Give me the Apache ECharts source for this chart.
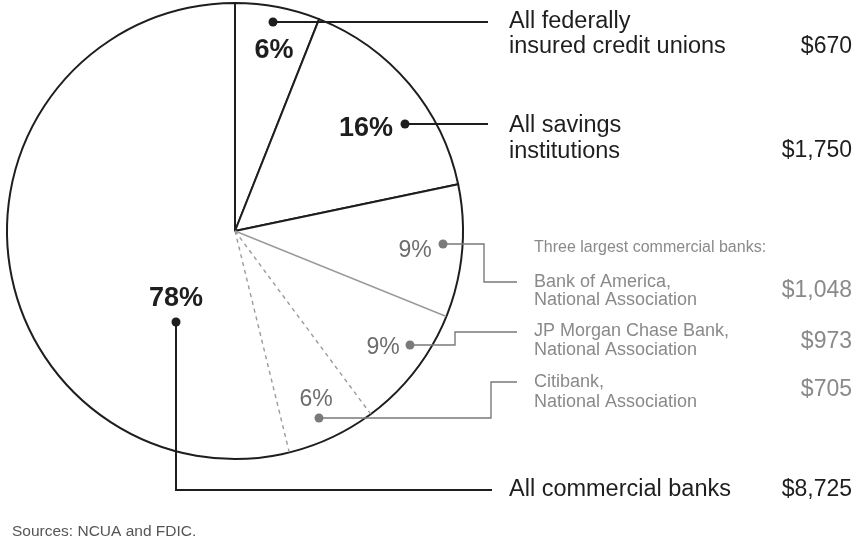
<!DOCTYPE html>
<html>
<head>
<meta charset="utf-8">
<script src="https://cdn.jsdelivr.net/npm/echarts@6/dist/echarts.min.js"></script>
<style>html,body{margin:0;padding:0;background:#fff}#c{width:859px;height:540px}</style>
</head>
<body>
<div id="c"></div>
<script>
// ---- data ----
const mainNames = [['All federally', 'insured credit unions'], ['All savings', 'institutions'], ['All commercial banks']];
const mainValues = [670, 1750, 8725];
const bankHeader = 'Three largest commercial banks:';
const bankNames = [['Bank of America,', 'National Association'], ['JP Morgan Chase Bank,', 'National Association'], ['Citibank,', 'National Association']];
const bankValues = [1048, 973, 705];
const sourceText = 'Sources: NCUA and FDIC.';

// ---- layout (pixels) ----
const PIE = { cx: 235, cy: 231, r: 228 };
const FONT = '"Liberation Sans", Arial, Helvetica, sans-serif';
const DARK = '#1e1e1e', GREY = '#8a8a8a', GREYLINE = '#9a9a9a';
const mainLayout = [
  { dot: [273, 22], path: [[488, 22]], pct: [274, 51], lines: [22, 47], amountY: 47 },
  { dot: [405, 124], path: [[488, 124]], pct: [366, 129], lines: [126, 152], amountY: 151 },
  { dot: [176, 322], path: [[176, 490], [492, 490]], pct: [176, 299], lines: [490], amountY: 490 }
];
const bankLayout = [
  { dot: [443, 244], path: [[484, 244], [484, 282], [517, 282]], pct: [415, 251], lines: [282, 300], amountY: 291 },
  { dot: [410, 345], path: [[455, 345], [455, 332], [517, 332]], pct: [383, 348], lines: [331, 350], amountY: 342 },
  { dot: [319, 418], path: [[491, 418], [491, 382], [517, 382]], pct: [316, 400], lines: [382, 402], amountY: 390 }
];
const TEXT_X = 509, BANK_X = 534, AMT_X = 852;

const total = mainValues.reduce((a, b) => a + b, 0);
const pctText = v => Math.round(v / total * 100) + '%';
const money = v => '$' + v.toLocaleString('en-US');

// sub-boundaries inside the commercial-bank slice
const startBanks = mainValues[0] + mainValues[1];
const boundaries = [];
let acc = startBanks;
bankValues.forEach(v => { acc += v; boundaries.push(acc); });

const lineSeries = boundaries.map((b, i) => ({
  type: 'line', coordinateSystem: 'polar', symbol: 'none', silent: true, z: 5,
  data: [[0, b], [1, b]],
  lineStyle: { color: GREYLINE, width: 1.4, type: i === 0 ? 'solid' : [4, 4] }
}));

// ---- annotations ----
const g = [];
function addLeader(L, color, lw, dotR) {
  const pts = [L.dot].concat(L.path);
  g.push({ type: 'polyline', z: 20, shape: { points: pts }, style: { stroke: color, lineWidth: lw, fill: null } });
  g.push({ type: 'circle', z: 21, shape: { cx: L.dot[0], cy: L.dot[1], r: dotR }, style: { fill: color } });
}
function addText(t, x, y, font, fill, align) {
  g.push({ type: 'text', z: 22, style: { text: t, x: x, y: y, font: font, fill: fill, textAlign: align || 'left', textVerticalAlign: 'middle' } });
}
mainValues.forEach((v, i) => {
  const L = mainLayout[i];
  addLeader(L, DARK, 2, 4.5);
  addText(pctText(v), L.pct[0], L.pct[1], 'bold 27px ' + FONT, DARK, 'center');
  mainNames[i].forEach((s, k) => addText(s, TEXT_X, L.lines[k], '23.5px ' + FONT, DARK));
  addText(money(v), AMT_X, L.amountY, '23px ' + FONT, DARK, 'right');
});
bankValues.forEach((v, i) => {
  const L = bankLayout[i];
  addLeader(L, '#7a7a7a', 1.4, 4.5);
  addText(pctText(v), L.pct[0], L.pct[1], '23px ' + FONT, '#6e6e6e', 'center');
  bankNames[i].forEach((s, k) => addText(s, BANK_X, L.lines[k], '18px ' + FONT, GREY));
  addText(money(v), AMT_X, L.amountY, '23px ' + FONT, GREY, 'right');
});
addText(bankHeader, BANK_X, 248, '16px ' + FONT, GREY);
addText(sourceText, 12, 532, '15.5px ' + FONT, '#555');

const chart = echarts.init(document.getElementById('c'), null, { renderer: 'canvas' });
chart.setOption({
  animation: false,
  backgroundColor: '#fff',
  polar: { center: [PIE.cx, PIE.cy], radius: PIE.r },
  angleAxis: { type: 'value', min: 0, max: total, startAngle: 90, clockwise: true,
    axisLine: { show: false }, axisTick: { show: false }, axisLabel: { show: false }, splitLine: { show: false } },
  radiusAxis: { type: 'value', min: 0, max: 1, show: false,
    axisLine: { show: false }, axisTick: { show: false }, axisLabel: { show: false }, splitLine: { show: false } },
  series: [{
    type: 'pie', center: [PIE.cx, PIE.cy], radius: [0, PIE.r], startAngle: 90, clockwise: true,
    silent: true, z: 1, label: { show: false }, labelLine: { show: false },
    itemStyle: { color: '#fff', borderColor: DARK, borderWidth: 2 },
    data: mainValues.map((v, i) => ({ value: v, name: mainNames[i].join(' ') }))
  }].concat(lineSeries),
  graphic: { elements: g }
});
</script>
</body>
</html>
